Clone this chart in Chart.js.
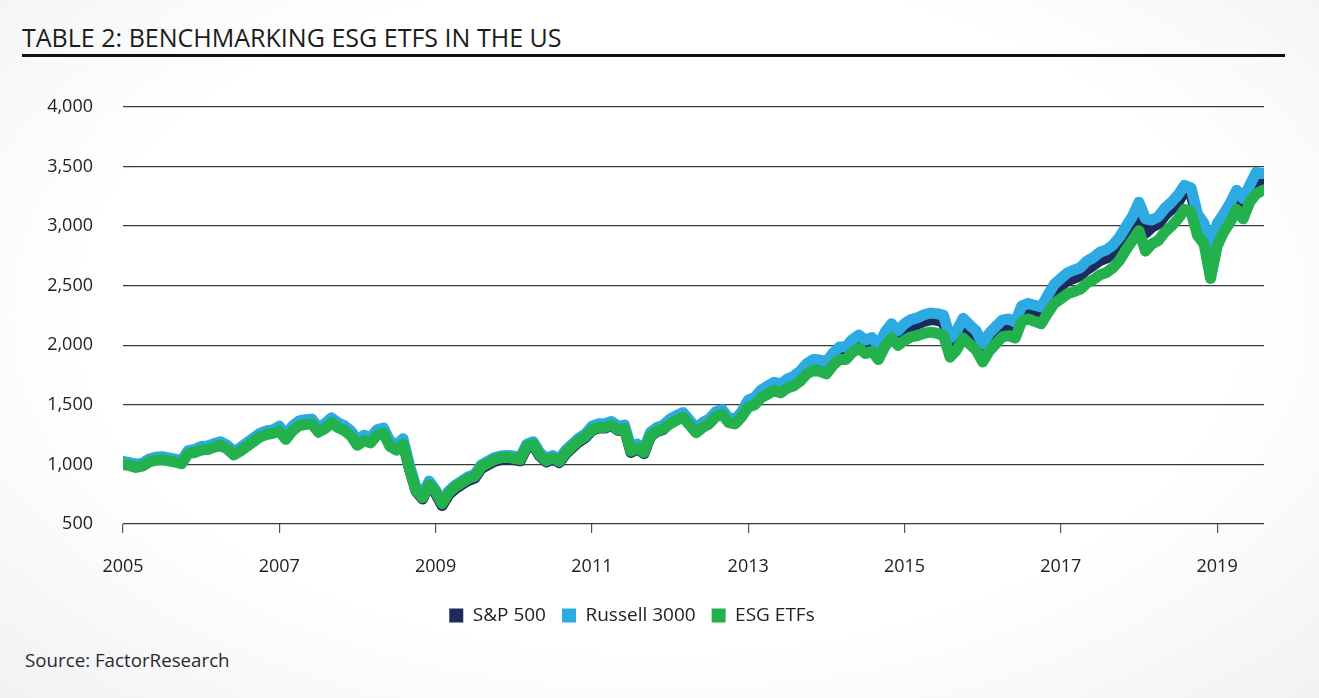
<!DOCTYPE html>
<html>
<head>
<meta charset="utf-8">
<script src="https://cdn.jsdelivr.net/npm/chart.js@4"></script>
<style>
  html, body { margin: 0; padding: 0; }
  body {
    width: 1319px; height: 698px; position: relative; overflow: hidden;
    background: radial-gradient(ellipse at 50% 45%, #ffffff 62%, #f1f2f4 100%);
    font-family: "Open Sans", sans-serif; color: #1b1b1b;
  }
  #titulo {
    position: absolute; left: 22px; top: 24px; font-size: 26px; line-height: 26px;
    white-space: nowrap; transform-origin: 0 0;
  }
  #regla { position: absolute; left: 22px; top: 54px; width: 1263px; height: 3px; background: #111; }
  #fuente {
    position: absolute; left: 25px; top: 651px; font-size: 19px; line-height: 19px;
    color: #2a2a2a; white-space: nowrap; transform-origin: 0 0;
  }
  #marco { position: absolute; left: 0; top: 66px; width: 1319px; height: 574px; }
</style>
</head>
<body>
<div id="titulo">TABLE 2: BENCHMARKING ESG ETFS IN THE US</div>
<div id="regla"></div>
<div id="marco"><canvas id="grafico"></canvas></div>
<div id="fuente">Source: FactorResearch</div>

<script>
// Serie mensual, enero 2005 - agosto 2019
const inicio = 2005;
const meses = [];
for (let i = 0; i < 176; i++) meses.push(inicio + i / 12);

const ticksX = [2005, 2007, 2009, 2011, 2013, 2015, 2017, 2019];
const ticksY = [500, 1000, 1500, 2000, 2500, 3000, 3500, 4000];

// S&P 500
const sp500 = [
  1015, 1005, 990, 1000, 1035, 1050, 1055, 1045, 1035, 1020, 1105, 1115,
  1135, 1140, 1160, 1175, 1145, 1095, 1125, 1165, 1205, 1245, 1265, 1275,
  1300, 1230, 1300, 1345, 1355, 1360, 1290, 1320, 1370, 1330, 1305, 1260,
  1180, 1220, 1200, 1265, 1280, 1170, 1140, 1190, 960, 775, 710, 830,
  755, 655, 745, 795, 830, 865, 885, 965, 995, 1025, 1040, 1045,
  1040, 1030, 1140, 1160, 1070, 1020, 1045, 1015, 1090, 1140, 1190, 1225,
  1285, 1305, 1305, 1325, 1285, 1295, 1100, 1130, 1090, 1235, 1275, 1295,
  1350, 1380, 1405, 1340, 1275, 1320, 1350, 1410, 1430, 1360, 1350, 1410,
  1510, 1532, 1594, 1626, 1658, 1640, 1682, 1704, 1746, 1808, 1840, 1832,
  1815, 1886, 1937, 1938, 1999, 2035, 1992, 2014, 1946, 2058, 2130, 2072,
  2125, 2160, 2175, 2200, 2215, 2210, 2190, 2000, 2060, 2160, 2110, 2060,
  1955, 2045, 2100, 2160, 2165, 2145, 2285, 2305, 2290, 2270, 2365, 2450,
  2495, 2540, 2560, 2585, 2635, 2670, 2710, 2730, 2775, 2835, 2930, 3010,
  3130, 2940, 2990, 3020, 3090, 3140, 3200, 3290, 3270, 3050, 2970, 2710,
  2940, 3060, 3130, 3240, 3155, 3295, 3365, 3395
];

// Russell 3000
const russell3000 = [
  1025, 1015, 1000, 1010, 1045, 1060, 1065, 1055, 1045, 1030, 1115, 1125,
  1150, 1155, 1175, 1190, 1160, 1110, 1140, 1180, 1220, 1260, 1280, 1290,
  1320, 1250, 1320, 1365, 1375, 1380, 1310, 1340, 1390, 1350, 1325, 1280,
  1205, 1245, 1225, 1290, 1305, 1195, 1165, 1215, 990, 810, 750, 860,
  785, 685, 775, 825, 860, 895, 915, 995, 1025, 1055, 1070, 1075,
  1070, 1060, 1170, 1190, 1100, 1050, 1075, 1045, 1120, 1170, 1220, 1255,
  1320, 1340, 1340, 1360, 1320, 1330, 1140, 1170, 1130, 1270, 1310, 1330,
  1380, 1410, 1435, 1370, 1305, 1350, 1380, 1440, 1460, 1390, 1380, 1440,
  1540, 1562, 1625, 1658, 1690, 1673, 1716, 1740, 1783, 1846, 1880, 1875,
  1860, 1932, 1984, 1986, 2048, 2085, 2042, 2064, 1996, 2108, 2180, 2122,
  2180, 2215, 2230, 2255, 2270, 2265, 2250, 2060, 2120, 2225, 2170, 2120,
  2010, 2100, 2155, 2210, 2220, 2195, 2330, 2350, 2335, 2320, 2420, 2510,
  2560, 2605, 2630, 2650, 2705, 2735, 2780, 2800, 2840, 2905, 2995, 3080,
  3200, 3060, 3050, 3080, 3150, 3200, 3260, 3340, 3320, 3100, 3020, 2780,
  3020, 3100, 3190, 3300, 3230, 3340, 3450, 3440
];

// ESG ETFs
const esgEtfs = [
  1000, 990, 975, 985, 1020, 1035, 1040, 1030, 1020, 1005, 1090, 1100,
  1120, 1125, 1145, 1160, 1130, 1080, 1110, 1150, 1190, 1230, 1250, 1260,
  1280, 1210, 1280, 1325, 1335, 1340, 1270, 1300, 1350, 1310, 1285, 1240,
  1160, 1200, 1180, 1245, 1260, 1150, 1120, 1170, 960, 780, 720, 830,
  770, 670, 760, 810, 845, 880, 900, 980, 1010, 1040, 1055, 1060,
  1050, 1040, 1150, 1170, 1080, 1030, 1055, 1025, 1100, 1150, 1200, 1235,
  1290, 1310, 1310, 1330, 1290, 1300, 1110, 1140, 1100, 1240, 1280, 1300,
  1340, 1370, 1395, 1330, 1265, 1310, 1340, 1400, 1420, 1350, 1340, 1400,
  1480, 1500, 1560, 1590, 1620, 1600, 1640, 1660, 1700, 1760, 1790, 1780,
  1760, 1830, 1880, 1880, 1940, 1975, 1930, 1950, 1880, 1990, 2060, 2000,
  2040, 2070, 2080, 2100, 2110, 2100, 2080, 1900, 1960, 2060, 2010, 1960,
  1860, 1950, 2010, 2070, 2080, 2060, 2200, 2220, 2200, 2180, 2270, 2350,
  2390, 2430, 2450, 2470, 2520, 2550, 2590, 2610, 2650, 2710, 2800, 2880,
  2960, 2790, 2850, 2880, 2950, 3000, 3060, 3140, 3120, 2920, 2850, 2560,
  2830, 2950, 3030, 3140, 3060, 3200, 3270, 3300
];

// ajustar ancho de los textos al original
function ajustar(id, ancho) {
  const el = document.getElementById(id);
  el.style.transform = 'scaleX(' + (ancho / el.offsetWidth) + ')';
}
ajustar('titulo', 540);
ajustar('fuente', 205);

const puntos = serie => serie.map((v, i) => ({ x: meses[i], y: v }));
const linea = (label, serie, color, orden) => ({
  label, data: puntos(serie), borderColor: color, backgroundColor: color,
  borderWidth: 11, pointRadius: 0, tension: 0, order: orden,
  borderJoinStyle: 'round', borderCapStyle: 'round'
});

const fuenteEjes = { family: '"Open Sans", sans-serif', size: 18 };

new Chart(document.getElementById('grafico'), {
  type: 'line',
  data: {
    datasets: [
      linea('S&P 500', sp500, '#1d2a5e', 3),
      linea('Russell 3000', russell3000, '#2eaae2', 2),
      linea('ESG ETFs', esgEtfs, '#22b14c', 1)
    ]
  },
  options: {
    responsive: true, maintainAspectRatio: false, animation: false,
    layout: { padding: { left: 0, right: 55, top: 12, bottom: 5 } },
    plugins: {
      tooltip: { enabled: false },
      legend: {
        position: 'bottom',
        labels: {
          boxWidth: 14, boxHeight: 14, padding: 16, color: '#222',
          font: { family: '"Open Sans", sans-serif', size: 19 },
          sort: (a, b) => a.datasetIndex - b.datasetIndex,
          generateLabels: chart => Chart.defaults.plugins.legend.labels.generateLabels(chart)
            .map(l => Object.assign(l, { lineWidth: 0, strokeStyle: l.fillStyle }))
        }
      }
    },
    scales: {
      x: {
        type: 'linear', min: 2005, max: 2019.6,
        afterBuildTicks: s => { s.ticks = ticksX.map(v => ({ value: v })); },
        afterFit: s => { s.height = 66; },
        grid: { drawOnChartArea: false, drawTicks: true, tickLength: 9, color: '#555', lineWidth: 1.2 },
        border: { display: false },
        ticks: { padding: 23, color: '#222', font: fuenteEjes, maxRotation: 0, callback: v => String(v) }
      },
      y: {
        min: 500, max: 4000,
        afterBuildTicks: s => { s.ticks = ticksY.map(v => ({ value: v })); },
        afterFit: s => { s.width = 123; },
        grid: { drawTicks: false, color: '#3a3a3a', lineWidth: 1.2 },
        border: { display: false },
        ticks: { padding: 30, color: '#222', font: fuenteEjes, callback: v => v.toLocaleString('en-US') }
      }
    }
  }
});
</script>
</body>
</html>
